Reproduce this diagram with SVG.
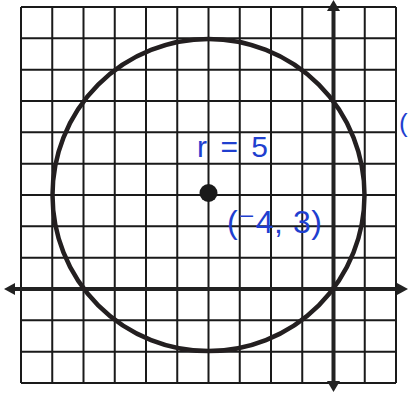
<svg xmlns="http://www.w3.org/2000/svg" width="409" height="393" viewBox="0 0 409 393">
<defs>
<style>
.grid{stroke:#1a1a1a;stroke-width:2;fill:none}
.axis{stroke:#222;stroke-width:4;fill:none}
.head{fill:#222}
.hand{fill:#1f3fcf;font-family:"Liberation Sans","DejaVu Sans",sans-serif}
</style>
</defs>
<rect width="409" height="393" fill="#fff"/>
<g id="grid" class="grid">
<path d="M21,7V383M52.25,7V383M83.5,7V383M114.75,7V383M146,7V383M177.25,7V383M208.5,7V383M239.75,7V383M271,7V383M302.25,7V383M364.75,7V383M396,7V383"/>
<path d="M21,7H396M21,38.33H396M21,69.67H396M21,101H396M21,132.33H396M21,163.67H396M21,195H396M21,226.33H396M21,257.67H396M21,320.33H396M21,351.67H396M21,383H396"/>
</g>
<g id="axes">
<path class="axis" d="M333.5,8V384"/>
<path class="axis" d="M12,289H400"/>
<polygon class="head" points="333.5,0 327,11 340,11"/>
<polygon class="head" points="333.5,392 327,381 340,381"/>
<polygon class="head" points="4,289 15,283 15,295"/>
<polygon class="head" points="408,289 397,283 397,295"/>
</g>
<g id="circle">
<circle cx="208.5" cy="195" r="156" fill="none" stroke="#231f20" stroke-width="4.5"/>
</g>
<g id="center">
<circle cx="208.5" cy="193" r="9" fill="#1a1a1a"/>
</g>
<g id="labels">
<text class="hand" x="197" y="157" font-size="30" textLength="71" lengthAdjust="spacing">r=5</text>
<text class="hand" x="227" y="233" font-size="32" textLength="95" lengthAdjust="spacing">(⁻4, 3)</text>
<text class="hand" x="399" y="132" font-size="26">(</text>
</g>
</svg>
